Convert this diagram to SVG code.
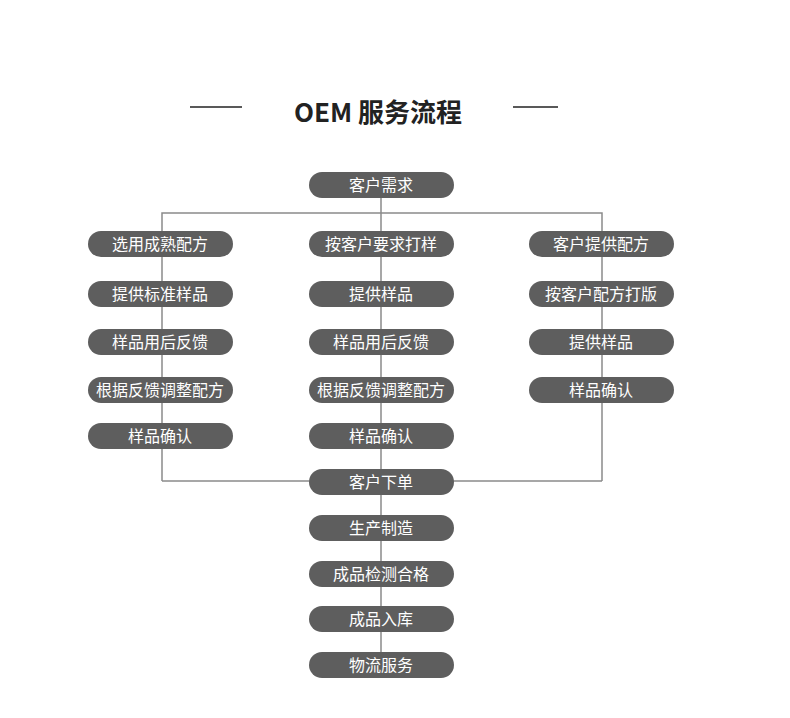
<svg xmlns="http://www.w3.org/2000/svg" width="790" height="718" viewBox="0 0 790 718">
<style>
.p{fill:#5e5e5e}
.t{fill:#fff;font-family:"Liberation Sans","Noto Sans CJK SC",sans-serif;font-size:16px;text-anchor:middle;dominant-baseline:central}
.l{stroke:#8a8a8a;stroke-width:1.5;fill:none}
</style>
<rect width="790" height="718" fill="#fff"/>
<g id="title">
<line x1="190" y1="107" x2="242" y2="107" stroke="#222" stroke-width="1.5"/>
<line x1="513" y1="107" x2="558" y2="107" stroke="#222" stroke-width="1.5"/>
<text x="378" y="110" font-family="'Noto Sans CJK SC',sans-serif" font-size="26" font-weight="bold" fill="#222" text-anchor="middle" dominant-baseline="central">OEM 服务流程</text>
</g>
<g id="connectors" class="l">
<line x1="381" y1="198" x2="381" y2="653"/>
<polyline points="162,231 162,213 602,213 602,231"/>
<line x1="162" y1="257" x2="162" y2="481"/>
<line x1="602" y1="257" x2="602" y2="481"/>
<line x1="162" y1="481" x2="602" y2="481"/>
</g>
<g id="n0"><rect class="p" x="309" y="172" width="145" height="26" rx="13"/><text class="t" x="381" y="185">客户需求</text></g>
<g id="l1"><rect class="p" x="88" y="231" width="145" height="26" rx="13"/><text class="t" x="160" y="244">选用成熟配方</text></g>
<g id="l2"><rect class="p" x="88" y="281" width="145" height="26" rx="13"/><text class="t" x="160" y="294">提供标准样品</text></g>
<g id="l3"><rect class="p" x="88" y="329" width="145" height="26" rx="13"/><text class="t" x="160" y="342">样品用后反馈</text></g>
<g id="l4"><rect class="p" x="88" y="377" width="145" height="26" rx="13"/><text class="t" x="160" y="390">根据反馈调整配方</text></g>
<g id="l5"><rect class="p" x="88" y="423" width="145" height="26" rx="13"/><text class="t" x="160" y="436">样品确认</text></g>
<g id="c1"><rect class="p" x="309" y="231" width="145" height="26" rx="13"/><text class="t" x="381" y="244">按客户要求打样</text></g>
<g id="c2"><rect class="p" x="309" y="281" width="145" height="26" rx="13"/><text class="t" x="381" y="294">提供样品</text></g>
<g id="c3"><rect class="p" x="309" y="329" width="145" height="26" rx="13"/><text class="t" x="381" y="342">样品用后反馈</text></g>
<g id="c4"><rect class="p" x="309" y="377" width="145" height="26" rx="13"/><text class="t" x="381" y="390">根据反馈调整配方</text></g>
<g id="c5"><rect class="p" x="309" y="423" width="145" height="26" rx="13"/><text class="t" x="381" y="436">样品确认</text></g>
<g id="r1"><rect class="p" x="529" y="231" width="145" height="26" rx="13"/><text class="t" x="601" y="244">客户提供配方</text></g>
<g id="r2"><rect class="p" x="529" y="281" width="145" height="26" rx="13"/><text class="t" x="601" y="294">按客户配方打版</text></g>
<g id="r3"><rect class="p" x="529" y="329" width="145" height="26" rx="13"/><text class="t" x="601" y="342">提供样品</text></g>
<g id="r4"><rect class="p" x="529" y="377" width="145" height="26" rx="13"/><text class="t" x="601" y="390">样品确认</text></g>
<g id="m1"><rect class="p" x="309" y="469" width="145" height="26" rx="13"/><text class="t" x="381" y="482">客户下单</text></g>
<g id="m2"><rect class="p" x="309" y="515" width="145" height="26" rx="13"/><text class="t" x="381" y="528">生产制造</text></g>
<g id="m3"><rect class="p" x="309" y="561" width="145" height="26" rx="13"/><text class="t" x="381" y="574">成品检测合格</text></g>
<g id="m4"><rect class="p" x="309" y="606" width="145" height="26" rx="13"/><text class="t" x="381" y="619">成品入库</text></g>
<g id="m5"><rect class="p" x="309" y="652" width="145" height="26" rx="13"/><text class="t" x="381" y="665">物流服务</text></g>
</svg>
